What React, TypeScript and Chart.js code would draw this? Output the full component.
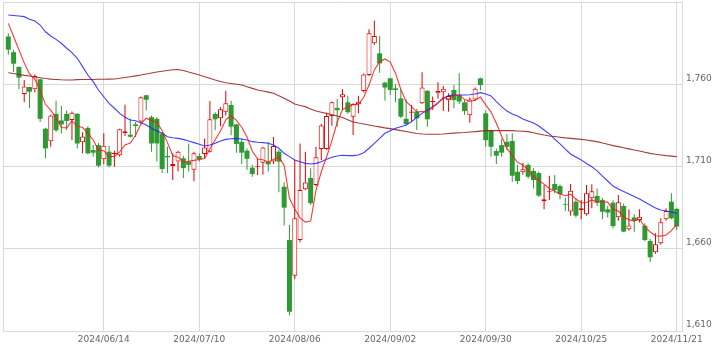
import React, { useEffect, useRef } from 'react';
import { Chart, registerables } from 'chart.js';

Chart.register(...registerables);

const opens = [
  1789, 1779.5, 1770.5, 1754, 1758.3, 1757, 1763, 1733, 1725.3, 1742,
  1738, 1742, 1738.3, 1742, 1724.7, 1733.4, 1720, 1723, 1714.4, 1719,
  1717.6, 1716.8, 1730.4, 1729.3, 1735.6, 1737.3, 1753.3, 1740, 1739, 1730,
  1716.4, 1710.3, 1713, 1715, 1713, 1708, 1716.4, 1717.6, 1719, 1742,
  1739.3, 1743.3, 1747.4, 1735.6, 1725, 1719.6, 1709.3, 1709.9, 1712.3, 1712.9,
  1713, 1719, 1697.7, 1665.3, 1643.6, 1665.3, 1696.1, 1703, 1698.8, 1720.6,
  1720.6, 1740.7, 1745.6, 1752.1, 1749, 1740.3, 1747.8, 1755.9, 1765.6, 1784.9,
  1778.8, 1761, 1763.6, 1757.5, 1751.4, 1739, 1742.7, 1743.4, 1748.4, 1756,
  1749, 1754.5, 1755.1, 1750.2, 1756.5, 1753.5, 1749, 1741.1, 1750.8, 1763.6,
  1742.3, 1731.8, 1719.4, 1723, 1725, 1725.5, 1706.8, 1706.5, 1711, 1707.3,
  1706, 1688.8, 1694.3, 1699.4, 1698.1, 1687.2, 1682.6, 1688.6, 1683.6, 1681,
  1690.7, 1692.1, 1689.6, 1684, 1688, 1679.1, 1686, 1671.8, 1679, 1677.5,
  1674, 1664.7, 1657.8, 1663.3, 1677.9, 1688.6, 1684.2,
];
const highs = [
  1791, 1781, 1771, 1762.6, 1758.5, 1766, 1763.5, 1733.5, 1741.5, 1750,
  1747, 1744, 1743.5, 1742.5, 1730.8, 1734.6, 1723, 1724.3, 1730.2, 1722.6,
  1719.5, 1733, 1747.6, 1739, 1737, 1752.5, 1753.5, 1741, 1740, 1731,
  1722, 1718, 1719.5, 1716.5, 1724, 1719, 1718, 1727, 1749.8, 1743,
  1746, 1756, 1750, 1736, 1727, 1721, 1711, 1715, 1722, 1725,
  1728, 1720, 1700.5, 1674.4, 1714, 1724, 1719, 1709, 1722, 1736,
  1742, 1749.5, 1751, 1757, 1753, 1748.5, 1753, 1766.5, 1793.4, 1798.6,
  1789.3, 1761.5, 1764, 1760, 1757, 1750.8, 1747.4, 1745, 1767.3, 1756.5,
  1752.5, 1761.2, 1759, 1754.5, 1759.5, 1766.7, 1750.5, 1752, 1758, 1764,
  1744, 1732.5, 1721, 1727, 1729.8, 1730.2, 1711, 1712.3, 1712, 1709,
  1707, 1698.8, 1704.4, 1704.8, 1699, 1691, 1699.4, 1690.5, 1689.6, 1698.8,
  1699.2, 1696.7, 1691, 1686, 1689.5, 1692.7, 1687.5, 1684, 1681, 1684,
  1675.5, 1666, 1669.4, 1678.5, 1684.6, 1693.7, 1685,
];
const lows = [
  1778, 1767.5, 1757, 1749, 1745.5, 1755, 1737, 1715, 1722, 1731,
  1730, 1732, 1726, 1721, 1718, 1717.5, 1716, 1709.5, 1711.3, 1709.5,
  1709.8, 1716, 1728.5, 1727.5, 1728, 1736, 1744, 1719, 1713, 1706,
  1706, 1701.8, 1707, 1703, 1707, 1701, 1713, 1715, 1718.5, 1732,
  1734.5, 1741, 1729, 1718.4, 1711.5, 1708, 1703.8, 1704.8, 1705, 1707,
  1711.5, 1694.3, 1674.2, 1619.5, 1641.4, 1664, 1695.5, 1686.6, 1698, 1714,
  1720, 1734.8, 1734.2, 1744, 1742, 1729.2, 1742.3, 1755, 1765, 1784,
  1767, 1750, 1753.5, 1749, 1739.5, 1735, 1737.3, 1732.2, 1748, 1734.2,
  1744.3, 1751.4, 1743.7, 1743.3, 1745.4, 1748, 1741.5, 1736.6, 1750, 1756.5,
  1722, 1716, 1711.5, 1716, 1720, 1700.8, 1699.4, 1705, 1702.5, 1696.7,
  1691.5, 1684, 1689.6, 1693.7, 1690, 1683, 1680, 1679, 1678, 1680,
  1684.6, 1686, 1678, 1679, 1672.4, 1677, 1670, 1671, 1670.4, 1676,
  1664.5, 1652, 1657, 1662.5, 1677, 1678, 1671.4,
];
const closes = [
  1781, 1772.5, 1764, 1758.7, 1755.5, 1765, 1739, 1721, 1741, 1732,
  1735.6, 1737.7, 1742.7, 1724, 1728.3, 1718, 1718.4, 1710.5, 1722.6, 1710.5,
  1718.4, 1732.6, 1731.4, 1728.1, 1734.6, 1752.1, 1750.6, 1724, 1724, 1708.5,
  1715.6, 1711.5, 1719, 1709, 1711, 1718, 1714.4, 1721.6, 1738.7, 1738.7,
  1744.8, 1748.4, 1734.2, 1723.7, 1718.4, 1714.7, 1705.4, 1710.3, 1721.6, 1711.3,
  1722.5, 1713, 1685, 1621.7, 1678.5, 1695.7, 1700.2, 1687.7, 1715.6, 1735,
  1740.7, 1749, 1744.2, 1753.9, 1743, 1748, 1749.4, 1766, 1791, 1789.3,
  1772.7, 1758, 1756.5, 1756.5, 1740.3, 1735.8, 1743.4, 1739.3, 1758.1, 1738.7,
  1749.8, 1755.9, 1757.3, 1752.9, 1750.4, 1749.5, 1743.7, 1750.8, 1757.3, 1759.5,
  1726, 1722, 1716.6, 1718.4, 1722, 1704.4, 1701.2, 1708.3, 1703.8, 1701.8,
  1692.3, 1690.1, 1694.9, 1695.7, 1693.3, 1686.8, 1695.3, 1680.1, 1684.6, 1693.7,
  1694.9, 1688, 1682.5, 1682, 1673.8, 1688.2, 1670.4, 1674.2, 1677, 1679.5,
  1665.3, 1654.8, 1662.7, 1676.1, 1682.9, 1678.5, 1673.5,
];
const ma5 = [
  1797, 1789, 1781, 1773, 1766.3, 1763.1, 1756.4, 1747.8, 1744.3, 1739.6,
  1733.7, 1733.5, 1737.8, 1734.4, 1733.7, 1730.1, 1726.3, 1719.8, 1719.6, 1716,
  1716.1, 1718.9, 1723.1, 1724.2, 1729, 1735.8, 1739.4, 1737.9, 1737.1, 1731.8,
  1724.5, 1716.7, 1715.7, 1712.7, 1713.2, 1713.7, 1714.3, 1714.8, 1720.7, 1726.3,
  1731.6, 1738.4, 1741, 1738, 1733.9, 1727.9, 1719.3, 1714.5, 1714.1, 1712.7,
  1714.2, 1715.7, 1710.7, 1690.7, 1684.1, 1678.8, 1676.2, 1676.8, 1695.5, 1706.8,
  1715.8, 1725.6, 1736.9, 1744.6, 1746.2, 1747.6, 1747.7, 1752.1, 1759.5, 1768.7,
  1773.7, 1775.4, 1773.5, 1766.6, 1756.8, 1749.4, 1746.5, 1743.1, 1743.4, 1743.1,
  1745.9, 1748.4, 1752, 1750.9, 1753.3, 1753.2, 1750.8, 1749.5, 1750.3, 1752.2,
  1747.5, 1743.1, 1736.3, 1728.5, 1721, 1716.7, 1712.5, 1710.9, 1707.9, 1703.9,
  1701.5, 1699.3, 1696.6, 1695, 1693.3, 1692.2, 1693.2, 1690.2, 1688, 1688.1,
  1689.7, 1688.3, 1688.7, 1688.2, 1684.2, 1682.9, 1679.4, 1677.7, 1676.7, 1677.9,
  1673.3, 1670.2, 1667.9, 1667.7, 1668.4, 1671, 1674.7,
];
const ma25 = [
  1802.1, 1801.8, 1801.5, 1801.1, 1799.5, 1798.4, 1796, 1791.9, 1789.3, 1787.3,
  1784.9, 1781.9, 1779.2, 1775.8, 1770.7, 1765.6, 1761.6, 1756.5, 1752.4, 1748.4,
  1745.4, 1742.3, 1739.9, 1738.3, 1737.8, 1736.6, 1735.2, 1733.2, 1731.6, 1730.2,
  1728.1, 1727.5, 1727.1, 1726.5, 1725.5, 1724.5, 1723.5, 1722.5, 1723.1, 1724.1,
  1725.5, 1726.5, 1726.9, 1727.1, 1726.7, 1726.1, 1725.1, 1724.7, 1724.5, 1724.1,
  1723.1, 1721.1, 1718, 1716, 1714, 1712.9, 1711.9, 1711.5, 1711.9, 1712.9,
  1714.4, 1715.6, 1716.4, 1716.8, 1716.6, 1716.6, 1717, 1718.4, 1721.1, 1724.1,
  1727.1, 1730.2, 1731.8, 1733.2, 1734.2, 1735.2, 1737.2, 1739.9, 1742.3, 1744.3,
  1746.4, 1748.8, 1751.5, 1753.1, 1753.5, 1753.5, 1753.5, 1753.6, 1754.1, 1754.9,
  1754.1, 1752.9, 1749.4, 1746.4, 1743.7, 1741.9, 1740.7, 1738.9, 1737.7, 1736.4,
  1734.6, 1732.2, 1729.8, 1726.7, 1723.7, 1720.6, 1717.6, 1715.8, 1714, 1711.8,
  1709.9, 1707.3, 1704.2, 1701.2, 1698.1, 1696.3, 1694.8, 1693.3, 1691.8, 1690.2,
  1688.4, 1686.6, 1684.8, 1683.6, 1683, 1682.3, 1681.5,
];
const ma75 = [
  1767, 1766.5, 1765.9, 1765.4, 1765, 1764.4, 1764, 1763.5, 1763.1, 1762.9,
  1762.7, 1762.6, 1762.6, 1762.8, 1762.9, 1762.9, 1762.9, 1763, 1763, 1763.1,
  1763.2, 1763.6, 1764.1, 1764.6, 1765.1, 1765.6, 1766.2, 1766.8, 1767.4, 1767.9,
  1768.4, 1768.8, 1769, 1768.4, 1767.4, 1766.5, 1765.6, 1764.6, 1763.6, 1762.6,
  1761.7, 1760.9, 1760.5, 1760, 1759.5, 1758.5, 1757.5, 1756.5, 1755.9, 1755.2,
  1754.5, 1753, 1751.5, 1749.8, 1748, 1747.1, 1746.4, 1745, 1743.7, 1743,
  1742.3, 1741.5, 1740.7, 1739.8, 1738.4, 1737.1, 1736.4, 1735.8, 1735.2, 1734.6,
  1734.1, 1733.5, 1733, 1732.4, 1731.8, 1731.3, 1730.7, 1730.1, 1729.8, 1729.6,
  1729.6, 1729.6, 1729.8, 1730.1, 1730.3, 1730.5, 1730.7, 1731, 1731.2, 1731.5,
  1731.8, 1731.8, 1731.8, 1731.8, 1731.9, 1731.8, 1731.6, 1731.4, 1731.2, 1730.5,
  1729.8, 1729.1, 1728.5, 1728.2, 1727.8, 1727.4, 1727.1, 1726.8, 1726.5, 1726.1,
  1725.6, 1725.1, 1724.3, 1723.5, 1722.7, 1722.1, 1721.4, 1720.7, 1720, 1719.4,
  1718.7, 1718, 1717.4, 1717, 1716.6, 1716.3, 1716,
];

const tickIndex = [18, 36, 54, 72, 90, 108, 126];
const tickLabels = ['2024/06/14', '2024/07/10', '2024/08/06', '2024/09/02', '2024/09/30', '2024/10/25', '2024/11/21'];
const yMin = 1610;
const yMax = 1810;
const yStep = 50;

const RED = '#e00000';
const GREEN = '#2f9a34';
const GRID = '#d9d9d9';
const FONT = { family: 'DejaVu Sans', size: 9 };

export default function App() {
  const ref = useRef<HTMLCanvasElement>(null);

  useEffect(() => {
    const idx = closes.map((_, i) => i);
    const up = idx.map((i) => closes[i] >= opens[i]);
    const line = (vals: number[], color: string, order: number) => ({
      type: 'line' as const,
      data: idx.map((i) => ({ x: i, y: vals[i] })),
      borderColor: color,
      borderWidth: 1.1,
      pointRadius: 0,
      tension: 0,
      order,
    });
    const chart = new Chart(ref.current as HTMLCanvasElement, {
      type: 'bar',
      data: {
        datasets: [
          line(ma5, 'rgba(255,20,20,0.85)', 0),
          line(ma25, 'rgba(30,30,255,0.85)', 1),
          line(ma75, 'rgba(150,25,25,0.85)', 2),
          {
            type: 'bar',
            data: idx.map((i) => ({ x: i, y: [opens[i], closes[i]] })),
            backgroundColor: up.map((u) => (u ? '#ffffff' : GREEN)),
            borderColor: up.map((u) => (u ? RED : GREEN)),
            borderWidth: up.map((u) => (u ? 1 : 0)),
            borderSkipped: false,
            barThickness: 5,
            grouped: false,
            inflateAmount: 0,
            order: 3,
          } as any,
          {
            type: 'bar',
            data: idx.map((i) => ({ x: i, y: [lows[i], highs[i]] })),
            backgroundColor: up.map((u) => (u ? RED : GREEN)),
            borderWidth: 0,
            barThickness: 1,
            grouped: false,
            inflateAmount: 0,
            order: 4,
          } as any,
        ],
      },
      options: {
        animation: false,
        responsive: false,
        devicePixelRatio: 1,
        layout: { padding: { left: 3, top: 2, right: 0, bottom: 0 } },
        plugins: { legend: { display: false }, tooltip: { enabled: false } },
        scales: {
          x: {
            type: 'linear',
            min: -1,
            max: 127,
            offset: false,
            grid: { color: GRID, drawTicks: false, offset: false },
            border: { color: GRID },
            afterBuildTicks: (scale: any) => {
              scale.ticks = [-1, ...tickIndex, 127].map((v) => ({ value: v }));
            },
            afterFit: (scale: any) => {
              scale.height = 27;
              scale.paddingLeft = 0;
              scale.paddingRight = 0;
            },
            ticks: {
              autoSkip: false,
              maxRotation: 0,
              padding: 3,
              color: '#666',
              font: FONT,
              callback: (value: any) => {
                const k = tickIndex.indexOf(Number(value));
                return k >= 0 ? tickLabels[k] : '';
              },
            },
          },
          y: {
            type: 'linear',
            position: 'right',
            min: yMin,
            max: yMax,
            beginAtZero: false,
            grid: { color: GRID, drawTicks: false },
            border: { color: GRID },
            afterFit: (scale: any) => {
              scale.width = 42;
              scale.paddingTop = 0;
              scale.paddingBottom = 0;
            },
            ticks: {
              stepSize: yStep,
              padding: 4,
              labelOffset: -6,
              color: '#666',
              font: FONT,
              callback: (value: any) => (Number(value) === yMax ? '' : Number(value).toLocaleString('en-US')),
            },
          },
        },
      } as any,
    });
    return () => chart.destroy();
  }, []);

  return (
    <div style={{ position: 'fixed', left: 0, top: 0, width: 724, height: 358, background: '#fff' }}>
      <canvas ref={ref} width={724} height={358} style={{ display: 'block' }} />
    </div>
  );
}
